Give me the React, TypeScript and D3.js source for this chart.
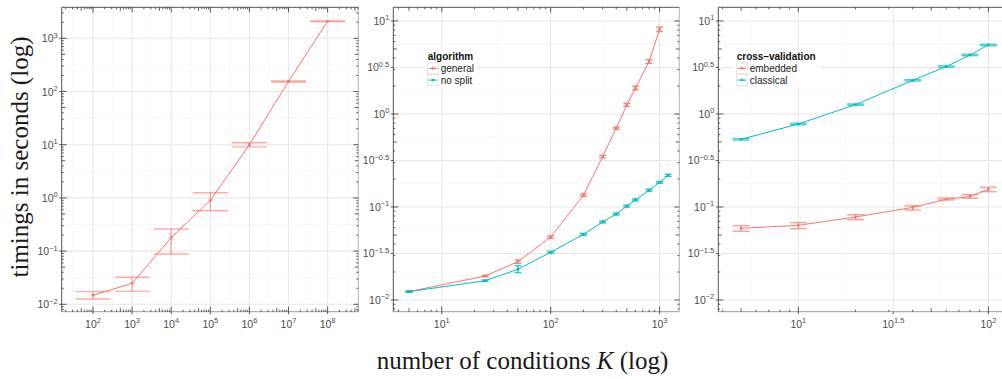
import React from "react";
import * as d3 from "d3";

// ---------- Panel 1: timings vs K (log) ----------
const k1 = [1e2, 1e3, 1e4, 1e5, 1e6, 1e7, 1e8];
const t1 = [0.0148, 0.0248, 0.179, 0.9, 10.0, 155, 2090];
const t1Lo = [0.0126, 0.0175, 0.088, 0.574, 9.1, 151, 2060];
const t1Hi = [0.0173, 0.0322, 0.26, 1.25, 10.9, 158, 2120];

// ---------- Panel 2: algorithm ----------
const k2 = [5, 25, 50, 100, 200, 300, 400, 500, 600, 800, 1000];
const general = [0.0123, 0.0181, 0.0258, 0.0475, 0.134, 0.348, 0.702, 1.25, 1.89, 3.66, 8.13];
const generalLo = [0.0121, 0.0178, 0.0248, 0.0462, 0.13, 0.338, 0.684, 1.21, 1.81, 3.5, 7.7];
const generalHi = [0.0125, 0.0184, 0.0269, 0.0489, 0.138, 0.359, 0.722, 1.3, 1.99, 3.84, 8.6];
const k2b = [5, 25, 50, 100, 200, 300, 400, 500, 600, 800, 1000, 1200];
const noSplit = [0.0123, 0.0161, 0.0214, 0.0326, 0.0508, 0.069, 0.084, 0.102, 0.119, 0.151, 0.184, 0.219];
const noSplitLo = [0.0121, 0.0158, 0.0197, 0.0319, 0.0497, 0.0675, 0.082, 0.0995, 0.116, 0.147, 0.18, 0.213];
const noSplitHi = [0.0125, 0.0164, 0.0234, 0.0333, 0.052, 0.0705, 0.086, 0.1045, 0.122, 0.155, 0.188, 0.225];

// ---------- Panel 3: cross-validation ----------
const k3 = [5, 10, 20, 40, 60, 80, 100];
const embedded = [0.059, 0.0635, 0.078, 0.099, 0.121, 0.13, 0.155];
const embeddedLo = [0.0548, 0.0585, 0.073, 0.0929, 0.119, 0.124, 0.146];
const embeddedHi = [0.063, 0.0678, 0.0826, 0.103, 0.125, 0.136, 0.163];
const classical = [0.534, 0.78, 1.26, 2.3, 3.23, 4.31, 5.52];
const classicalLo = [0.524, 0.765, 1.24, 2.26, 3.17, 4.23, 5.42];
const classicalHi = [0.544, 0.795, 1.28, 2.34, 3.29, 4.39, 5.62];

// ---------- tick label exponents ----------
const p1XBreaks = [2, 3, 4, 5, 6, 7, 8];
const p1YBreaks = [-2, -1, 0, 1, 2, 3];
const p2XBreaks = [1, 2, 3];
const p23YBreaks = [-2, -1.5, -1, -0.5, 0, 0.5, 1];
const p3XBreaks = [1, 1.5, 2];

const legend2Title = "algorithm";
const legend2Labels = ["general", "no split"];
const legend3Title = "cross\u2013validation";
const legend3Labels = ["embedded", "classical"];

const yTitle = "timings in seconds (log)";
const xTitleA = "number of conditions ";
const xTitleK = "K";
const xTitleB = " (log)";

const RED = "#F8766D";
const BLUE = "#00BFC4";
const SANS = "'Liberation Sans', Arial, Helvetica, sans-serif";
const SERIF = "'Liberation Serif', 'DejaVu Serif', serif";

type Series = { color: string; x: number[]; y: number[]; lo: number[]; hi: number[] };

function fmtExp(e: number) {
  const s = Number.isInteger(e) ? String(e) : e.toFixed(1);
  return s.replace("-", "\u2212");
}

function logTicks(d: [number, number]) {
  const out: { v: number; len: number }[] = [];
  for (let k = Math.floor(d[0]); k <= Math.ceil(d[1]); k++) {
    for (let m = 1; m <= 9; m++) {
      const v = m * Math.pow(10, k);
      const lv = Math.log10(v);
      if (lv >= d[0] - 1e-9 && lv <= d[1] + 1e-9) out.push({ v, len: m === 1 ? 5 : m === 5 ? 3.5 : 2 });
    }
  }
  return out;
}

function minorOf(breaks: number[], d: [number, number]) {
  const step = breaks[1] - breaks[0];
  const out: number[] = [];
  const first = breaks[0] - step / 2;
  for (let e = first; e <= d[1]; e += step) if (e >= d[0]) out.push(e);
  return out;
}

type Cfg = {
  left: number; right: number; top: number; bottom: number;
  xd: [number, number]; yd: [number, number];
  xBreaks: number[]; yBreaks: number[];
  series: Series[]; capW: number; ebOpacity: number;
  legend?: { x: number; y: number; w: number; title: string; labels: string[]; colors: string[] };
};

function Panel({ cfg }: { cfg: Cfg }) {
  const { left, right, top, bottom, xd, yd, xBreaks, yBreaks, series, capW, legend } = cfg;
  const x = d3.scaleLog().domain([10 ** xd[0], 10 ** xd[1]]).range([left, right]);
  const y = d3.scaleLog().domain([10 ** yd[0], 10 ** yd[1]]).range([bottom, top]);
  const xMinor = minorOf(xBreaks, xd);
  const yMinor = minorOf(yBreaks, yd);
  const xt = logTicks(xd);
  const yt = logTicks(yd);
  const line = d3.line<[number, number]>().x((d) => x(d[0])).y((d) => y(d[1]));
  const capF = Math.pow(10, capW);
  return (
    <g>
      {xMinor.map((e, i) => (
        <line key={"xm" + i} x1={x(10 ** e)} x2={x(10 ** e)} y1={top} y2={bottom} stroke="#f4f4f4" strokeWidth={0.6} />
      ))}
      {yMinor.map((e, i) => (
        <line key={"ym" + i} x1={left} x2={right} y1={y(10 ** e)} y2={y(10 ** e)} stroke="#f4f4f4" strokeWidth={0.6} />
      ))}
      {xBreaks.map((e, i) => (
        <line key={"xg" + i} x1={x(10 ** e)} x2={x(10 ** e)} y1={top} y2={bottom} stroke="#e8e8e8" strokeWidth={1.1} />
      ))}
      {yBreaks.map((e, i) => (
        <line key={"yg" + i} x1={left} x2={right} y1={y(10 ** e)} y2={y(10 ** e)} stroke="#e8e8e8" strokeWidth={1.1} />
      ))}
      {series.map((s, si) => (
        <g key={"s" + si}>
          {s.x.map((xv, i) => (
            <g key={i} stroke={s.color} strokeOpacity={cfg.ebOpacity} strokeWidth={1.4}>
              <line x1={x(xv)} x2={x(xv)} y1={y(s.lo[i])} y2={y(s.hi[i])} />
              <line x1={x(xv / capF)} x2={x(xv * capF)} y1={y(s.lo[i])} y2={y(s.lo[i])} />
              <line x1={x(xv / capF)} x2={x(xv * capF)} y1={y(s.hi[i])} y2={y(s.hi[i])} />
            </g>
          ))}
          <path d={line(s.x.map((v, i) => [v, s.y[i]] as [number, number])) || ""} fill="none" stroke={s.color} strokeWidth={1} />
          {s.x.map((xv, i) => (
            <circle key={"p" + i} cx={x(xv)} cy={y(s.y[i])} r={1.4} fill={s.color} />
          ))}
        </g>
      ))}
      <line x1={left} x2={right} y1={bottom} y2={bottom} stroke="#9a9a9a" strokeWidth={1} />
      <line x1={right} x2={right} y1={top} y2={bottom} stroke="#b5b5b5" strokeWidth={1} />
      <line x1={left} x2={right} y1={top} y2={top} stroke="#555" strokeWidth={1} />
      <line x1={left} x2={left} y1={top} y2={bottom} stroke="#555" strokeWidth={1} />
      {xt.map((t, i) => (
        <g key={"xt" + i} stroke="#333" strokeWidth={0.8}>
          <line x1={x(t.v)} x2={x(t.v)} y1={bottom} y2={bottom - t.len} />
          <line x1={x(t.v)} x2={x(t.v)} y1={top} y2={top + t.len} />
        </g>
      ))}
      {yt.map((t, i) => (
        <g key={"yt" + i} stroke="#333" strokeWidth={0.8}>
          <line x1={left} x2={left + t.len} y1={y(t.v)} y2={y(t.v)} />
          <line x1={right} x2={right - t.len} y1={y(t.v)} y2={y(t.v)} />
        </g>
      ))}
      {xBreaks.map((e, i) => (
        <line key={"xo" + i} x1={x(10 ** e)} x2={x(10 ** e)} y1={bottom} y2={bottom + 2.5} stroke="#333" strokeWidth={0.8} />
      ))}
      {yBreaks.map((e, i) => (
        <line key={"yo" + i} x1={left - 2.5} x2={left} y1={y(10 ** e)} y2={y(10 ** e)} stroke="#333" strokeWidth={0.8} />
      ))}
      {xBreaks.map((e, i) => (
        <text key={"xl" + i} x={x(10 ** e)} y={bottom + 16} textAnchor="middle" fontFamily={SANS} fontSize={10.5} fill="#4d4d4d">
          <tspan>10</tspan>
          <tspan fontSize={7.5} dy={-4.5}>{fmtExp(e)}</tspan>
        </text>
      ))}
      {yBreaks.map((e, i) => (
        <text key={"yl" + i} x={left - 4} y={y(10 ** e) + 4} textAnchor="end" fontFamily={SANS} fontSize={10.5} fill="#4d4d4d">
          <tspan>10</tspan>
          <tspan fontSize={7.5} dy={-4.5}>{fmtExp(e)}</tspan>
        </text>
      ))}
      {legend && (
        <g fontFamily={SANS} fontSize={10}>
          <rect x={legend.x - 3} y={legend.y - 9} width={legend.w} height={40} fill="#fff" />
          <text x={legend.x} y={legend.y + 3.6} fontWeight="bold" fill="#111">{legend.title}</text>
          {legend.labels.map((lab, i) => {
            const yc = legend.y + 11.7 * (i + 1);
            return (
              <g key={"lg" + i}>
                <rect x={legend.x} y={yc - 5.6} width={10.5} height={11.2} fill="#fff" stroke="#dadada" strokeWidth={0.8} />
                <line x1={legend.x + 1} x2={legend.x + 9.5} y1={yc} y2={yc} stroke={legend.colors[i]} strokeWidth={1} />
                <circle cx={legend.x + 5.25} cy={yc} r={1.4} fill={legend.colors[i]} />
                <text x={legend.x + 13} y={yc + 3.6} fill="#1a1a1a">{lab}</text>
              </g>
            );
          })}
        </g>
      )}
    </g>
  );
}

export default function App() {
  const TOP = 7.3;
  const BOTTOM = 311.7;
  const panels: Cfg[] = [
    {
      left: 61.7, right: 358.3, top: TOP, bottom: BOTTOM,
      xd: [1.199, 8.785], yd: [-2.139, 3.583],
      xBreaks: p1XBreaks, yBreaks: p1YBreaks, capW: 0.447, ebOpacity: 0.6,
      series: [{ color: RED, x: k1, y: t1, lo: t1Lo, hi: t1Hi }],
    },
    {
      left: 393.3, right: 679.3, top: TOP, bottom: BOTTOM,
      xd: [0.555, 3.181], yd: [-2.126, 1.147],
      xBreaks: p2XBreaks, yBreaks: p23YBreaks, capW: 0.032, ebOpacity: 0.85,
      series: [
        { color: RED, x: k2, y: general, lo: generalLo, hi: generalHi },
        { color: BLUE, x: k2b, y: noSplit, lo: noSplitLo, hi: noSplitHi },
      ],
      legend: { x: 427.7, y: 56.7, w: 52, title: legend2Title, labels: legend2Labels, colors: [RED, BLUE] },
    },
    {
      left: 718.3, right: 1011, top: TOP, bottom: BOTTOM,
      xd: [0.579, 2.119], yd: [-2.126, 1.147],
      xBreaks: p3XBreaks, yBreaks: p23YBreaks, capW: 0.044, ebOpacity: 0.7,
      series: [
        { color: RED, x: k3, y: embedded, lo: embeddedLo, hi: embeddedHi },
        { color: BLUE, x: k3, y: classical, lo: classicalLo, hi: classicalHi },
      ],
      legend: { x: 736.7, y: 56.7, w: 86, title: legend3Title, labels: legend3Labels, colors: [RED, BLUE] },
    },
  ];
  return (
    <svg width={1002} height={379} style={{ position: "absolute", left: 0, top: 0, background: "#fff" }}>
      <rect x={0} y={0} width={1002} height={379} fill="#fff" />
      {panels.map((p, i) => (
        <Panel key={i} cfg={p} />
      ))}
      <text transform="translate(28,157) rotate(-90)" textAnchor="middle" fontFamily={SERIF} fontSize={25} fill="#1a1a1a">
        {yTitle}
      </text>
      <text x={522.5} y={369} textAnchor="middle" fontFamily={SERIF} fontSize={25} fill="#1a1a1a">
        <tspan>{xTitleA}</tspan>
        <tspan fontStyle="italic">{xTitleK}</tspan>
        <tspan>{xTitleB}</tspan>
      </text>
    </svg>
  );
}
